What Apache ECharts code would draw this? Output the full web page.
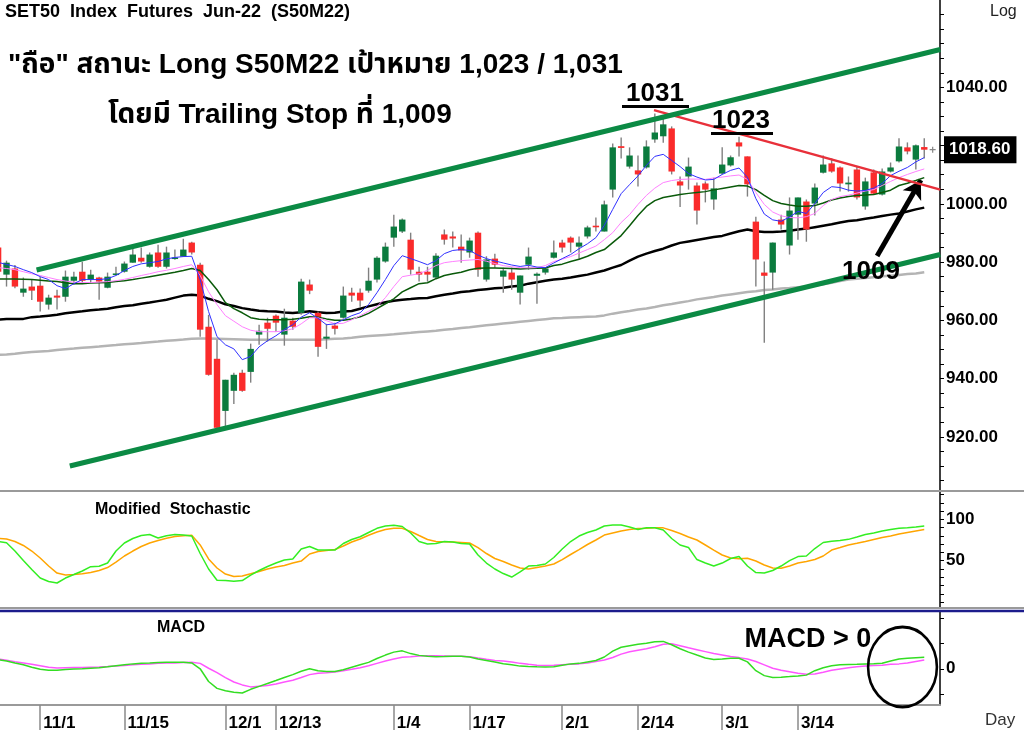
<!DOCTYPE html>
<html><head><meta charset="utf-8">
<script src="https://cdn.jsdelivr.net/npm/echarts@6/dist/echarts.min.js"></script>
<style>html,body{margin:0;padding:0;background:#fff}#c{width:1024px;height:732px}</style>
</head><body><div id="c"></div><script>
const cats = ['10/22','10/26','10/27','10/28','10/29',
'11/1','11/2','11/3','11/4','11/5','11/8','11/9','11/10','11/11','11/12',
'11/15','11/16','11/17','11/18','11/19','11/22','11/23','11/24','11/25','11/26',
'11/29','11/30','12/1','12/2','12/3','12/7','12/8','12/9',
'12/13','12/14','12/15','12/16','12/17','12/20','12/21','12/22','12/23','12/24',
'12/27','12/28','12/29','12/30','1/4','1/5','1/6','1/7',
'1/10','1/11','1/12','1/13','1/14','1/17','1/18','1/19','1/20','1/21',
'1/24','1/25','1/26','1/27','1/28','1/31','2/1','2/2','2/3','2/4',
'2/7','2/8','2/9','2/10','2/11','2/14','2/15','2/17','2/18',
'2/21','2/22','2/23','2/24','2/25','2/28','3/1','3/2','3/3','3/4',
'3/7','3/8','3/9','3/10','3/11','3/14','3/15','3/16','3/17','3/18',
'3/21','3/22','3/23','3/24','3/25','3/28','3/29','3/30','3/31','4/1','4/4','4/5'];
const tickDates = ['11/1','11/15','12/1','12/13','1/4','1/17','2/1','2/14','3/1','3/14'];
const priceLabels = [920, 940, 960, 980, 1000, 1040];
const stochLabels = [50, 100];
const macdLabels = [0];

const open = [985.0,975.7,977.8,969.5,971.6,971.9,965.4,968.5,968.1,973.6,
976.7,974.0,974.7,971.2,975.8,976.7,979.8,981.5,978.4,983.3,
978.4,981.3,981.9,986.7,979.1,957.8,946.8,928.9,935.8,942.0,
942.3,955.1,959.2,961.6,955.1,959.9,962.6,972.3,962.6,953.7,
958.2,960.9,969.5,969.5,970.2,974.0,980.2,988.4,990.5,987.7,
976.7,976.7,974.7,989.5,988.8,985.3,983.3,990.1,974.0,981.2,
975.0,976.4,969.5,979.1,975.3,976.4,981.5,986.7,988.4,985.3,
988.8,992.5,990.5,1004.9,1019.8,1012.8,1011.5,1012.5,1022.1,1023.2,
1025.9,1007.7,1009.4,1006.3,1007.0,1001.5,1010.4,1013.2,1021.1,1016.3,
993.9,976.4,976.4,994.6,985.7,996.3,1000.8,1000.1,1010.7,1013.9,
1012.5,1006.7,1011.8,999.1,1010.8,1003.2,1011.1,1014.6,1019.4,1015.2,
1019.5];
const close = [976.7,979.8,971.6,970.9,970.2,966.4,967.8,967.8,975.0,975.0,
973.6,975.7,973.3,975.0,976.1,979.5,982.6,980.2,982.6,978.4,
983.3,981.6,984.3,983.3,956.8,941.3,923.1,939.6,941.3,935.8,
950.2,956.4,957.1,959.2,960.9,957.8,973.3,970.2,950.9,954.4,
957.1,968.5,968.5,966.8,973.6,981.5,985.3,992.2,994.6,977.4,
975.7,975.7,982.2,987.7,988.1,984.0,987.4,977.4,980.9,979.1,
977.1,974.0,975.4,981.9,976.0,977.8,983.3,985.0,986.7,986.7,
991.9,992.2,999.8,1019.4,1019.2,1016.6,1010.1,1019.7,1024.5,1027.3,
1011.1,1006.3,1012.8,997.7,1004.9,1005.3,1013.5,1016.0,1019.7,1006.7,
980.9,975.3,986.7,992.9,997.7,1002.2,991.2,1005.6,1013.5,1011.1,
1007.0,1007.3,1002.2,1007.7,1003.5,1011.1,1012.5,1019.7,1018.0,1020.1,
1018.6];
const low = [975.0,971.6,971.0,968.1,967.0,963.0,963.7,963.7,966.4,972.3,
972.9,972.9,967.1,971.0,975.5,976.4,979.8,979.8,978.1,978.1,
977.8,980.8,981.9,982.6,954.4,941.0,923.0,923.4,931.3,935.5,
938.6,951.6,952.7,956.1,951.3,956.8,961.9,969.0,947.5,950.2,
955.1,960.6,966.4,964.7,969.5,973.0,979.8,985.3,990.0,975.7,
973.3,973.3,974.3,986.0,985.0,979.8,981.5,975.0,973.3,978.1,
969.5,970.5,965.4,977.4,965.7,975.7,981.2,983.3,983.3,980.9,
988.1,990.5,990.5,1002.2,1015.6,1012.1,1006.0,1012.1,1021.0,1021.0,
1010.1,998.9,1004.9,992.9,1000.5,998.0,1010.1,1012.8,1016.3,1002.5,
971.6,952.3,970.5,991.2,982.6,987.7,987.0,996.0,1010.4,1010.7,
1004.2,1004.2,1001.5,998.0,1003.2,1002.9,1010.8,1014.2,1017.0,1011.8,
1015.6];
const high = [987.0,980.5,979.0,974.7,974.0,975.0,968.8,970.5,977.1,976.7,
980.1,977.4,975.0,976.4,978.4,980.2,985.0,985.0,983.3,986.0,
985.3,984.3,988.0,987.0,979.8,961.9,953.3,939.6,942.0,943.0,
952.0,958.5,960.9,962.0,964.0,960.9,974.3,974.0,963.0,958.8,
959.2,971.6,971.2,970.9,978.1,982.0,986.7,996.3,995.0,990.1,
978.4,978.4,983.0,991.2,990.5,989.5,988.4,990.5,982.0,982.9,
978.1,978.1,975.4,985.0,976.4,978.1,987.4,987.7,988.8,988.8,
992.5,995.3,1001.1,1020.7,1022.8,1019.4,1016.6,1021.8,1031.0,1030.0,
1026.6,1009.4,1015.9,1007.3,1007.7,1009.0,1019.4,1016.6,1023.0,1016.3,
995.6,980.2,986.7,996.3,1002.2,1002.2,1001.5,1007.0,1016.6,1015.6,
1012.8,1009.4,1012.8,1009.0,1011.8,1012.1,1014.2,1022.5,1021.1,1020.4,
1022.5];

const maFast = [979.9,979.2,978.5,977.4,976.4,975.0,974.0,971.9,970.9,972.6,
974.0,974.0,974.0,974.3,975.4,977.1,978.5,979.4,979.8,980.2,
981.1,981.6,981.9,982.0,974.0,963.0,954.4,951.6,950.2,946.5,
947.6,950.9,953.0,954.7,956.8,958.5,961.1,962.6,960.7,958.5,
958.8,960.2,961.6,962.6,965.4,969.5,974.0,978.8,982.2,981.2,
980.2,979.1,980.5,982.9,984.0,984.3,984.0,982.4,981.2,980.4,
979.7,979.0,978.5,978.9,978.3,978.1,979.7,981.2,982.6,984.6,
986.3,988.4,992.6,998.1,1003.5,1006.6,1009.6,1013.2,1016.3,1017.0,
1014.9,1012.8,1010.4,1009.2,1008.2,1008.4,1010.1,1011.5,1012.3,1009.1,
1001.8,996.5,994.5,994.0,995.5,997.4,996.7,1000.1,1003.9,1005.9,
1005.6,1004.7,1004.4,1004.6,1005.4,1007.0,1009.7,1011.2,1012.5,1014.4,
1015.9];
const maMid = [978.1,977.8,977.4,976.7,976.0,975.4,974.7,974.0,973.5,973.1,
973.0,973.0,973.1,973.3,973.6,974.1,974.7,975.4,976.0,976.7,
977.2,977.8,978.5,979.1,975.4,969.8,965.4,961.6,959.7,957.8,
956.6,956.1,956.1,956.1,956.4,957.1,958.8,960.9,960.9,959.9,
958.8,959.0,960.2,961.6,963.1,964.7,967.8,971.6,975.0,975.5,
976.0,977.2,978.8,979.8,980.2,980.5,980.7,980.9,980.3,979.5,
978.8,978.4,978.1,978.0,978.1,978.8,980.2,981.0,981.9,983.1,
984.3,985.5,987.7,990.1,993.6,996.3,999.8,1002.9,1005.4,1007.3,
1008.0,1008.4,1008.5,1008.5,1008.4,1008.9,1009.2,1009.6,1009.9,1008.4,
1003.9,999.8,997.2,995.9,995.3,995.2,995.6,996.7,999.4,1001.5,
1002.5,1003.0,1003.7,1004.4,1004.9,1006.3,1007.7,1009.0,1010.1,1011.1,
1012.0];
const maSlow = [974.2,974.2,974.2,974.1,974.0,973.8,973.5,973.3,972.9,972.6,
972.6,972.8,972.9,973.0,973.3,973.6,974.0,974.5,975.0,975.5,
976.0,976.5,977.1,977.8,977.1,974.0,970.5,966.1,964.0,962.6,
960.9,960.4,960.2,960.2,960.2,960.4,960.7,961.2,961.1,960.5,
960.0,960.0,960.5,961.2,962.4,964.0,965.7,967.4,969.8,971.2,
972.6,972.9,974.3,975.4,976.0,976.5,977.4,977.9,978.0,978.0,
977.9,977.8,977.6,977.8,977.9,978.0,978.8,979.3,980.2,981.0,
982.0,983.3,984.3,986.7,989.1,992.5,996.0,999.1,1001.1,1002.2,
1002.7,1003.2,1003.6,1003.9,1004.2,1004.8,1005.3,1005.8,1006.3,1006.1,
1004.9,1002.9,1001.1,1000.1,999.6,999.2,999.2,999.4,1000.3,1001.3,
1002.0,1002.5,1002.9,1003.0,1003.2,1003.9,1004.7,1006.3,1007.1,1008.0,
1009.0];
const maLong = [960.2,960.5,960.5,960.5,961.1,961.3,961.6,961.9,962.4,962.8,
963.1,963.5,963.7,964.0,964.5,964.9,965.2,965.7,966.1,966.6,
967.1,967.8,968.5,968.8,968.5,967.4,966.6,965.5,964.9,964.2,
963.7,963.3,963.1,963.0,962.7,962.5,962.8,963.1,962.8,962.5,
962.6,963.0,963.2,964.0,964.8,965.5,966.2,966.7,967.1,967.3,
967.6,967.7,968.3,968.8,969.2,969.7,970.0,970.4,970.7,971.0,
971.2,971.6,971.9,972.6,973.1,973.6,974.0,974.3,974.7,975.2,
975.7,976.4,977.1,978.1,979.0,980.5,981.9,982.9,983.8,984.6,
985.7,986.6,987.1,987.6,988.1,988.6,989.0,989.8,990.6,991.2,
990.6,990.3,990.3,990.5,990.8,991.2,991.5,992.0,992.5,993.0,
993.6,994.1,994.4,994.9,995.3,995.8,996.3,996.7,997.4,998.1,
998.7];
const maVeryLong = [948.2,948.3,948.5,948.9,949.1,949.3,949.5,949.8,950.1,950.3,
950.6,950.8,951.0,951.3,951.5,951.8,952.0,952.2,952.5,952.7,
953.0,953.2,953.4,953.7,953.8,953.8,953.7,953.6,953.5,953.4,
953.3,953.3,953.3,953.3,953.3,953.3,953.3,953.3,953.3,953.5,
953.7,953.8,954.0,954.4,954.6,954.8,955.0,955.2,955.5,955.7,
956.0,956.2,956.4,956.8,957.0,957.4,957.6,958.0,958.3,958.6,
958.9,959.2,959.5,959.8,960.1,960.4,960.7,960.8,961.0,961.1,
961.2,961.3,961.7,962.3,962.8,963.2,963.7,964.1,964.6,965.2,
965.6,966.1,966.6,967.2,967.6,968.0,968.5,968.9,969.3,969.7,
970.0,970.4,970.6,970.9,971.1,971.4,971.6,972.0,972.4,972.9,
973.5,974.0,974.3,974.5,974.8,975.1,975.3,975.6,975.9,976.1,
976.5];

const stochK = [73.2,71.7,61.7,50.2,39.4,29.1,24.9,23.1,29.1,33.3,
37.6,42.8,43.4,47.2,61.7,71.4,76.8,80.4,81.6,77.4,
80.1,81.6,81.0,79.8,58.7,40.0,26.5,26.0,25.2,26.1,
32.7,38.2,43.0,47.2,50.8,52.1,64.1,67.2,62.9,62.9,
62.9,70.8,75.6,79.0,84.1,89.1,91.9,92.8,91.3,83.5,
73.2,70.2,70.8,73.2,72.6,70.8,70.2,56.9,47.2,40.0,
34.5,30.3,36.4,43.6,44.2,46.0,53.9,64.1,73.2,79.8,
84.1,87.1,91.9,93.1,93.1,90.7,87.7,89.9,89.9,87.1,
76.8,69.0,65.9,51.4,47.2,43.6,47.2,52.7,55.1,43.6,
35.7,35.1,38.2,43.6,50.2,55.0,55.7,64.7,72.0,73.4,
74.4,75.8,78.6,81.6,83.5,85.9,87.7,89.3,89.7,90.7,
91.9];
const stochD = [77.1,76.2,73.2,68.4,61.7,53.3,43.6,35.1,32.7,33.3,
34.2,35.7,38.2,41.8,48.4,55.7,61.7,67.2,71.4,74.4,
77.1,79.2,80.2,80.7,69.0,52.1,41.2,33.9,30.9,31.5,
34.2,37.0,40.0,42.4,44.2,47.2,49.6,58.1,61.1,62.3,
63.5,67.8,72.6,76.2,80.7,84.7,87.7,89.3,89.1,85.3,
80.4,75.6,73.2,72.9,72.6,72.0,71.4,65.9,58.7,52.7,
49.0,44.8,41.2,40.0,41.8,43.6,46.0,51.4,57.5,63.5,
69.6,75.0,81.0,83.5,85.9,87.7,88.9,89.3,89.9,89.7,
86.5,82.9,78.6,75.0,69.0,62.9,56.9,53.3,52.3,52.9,
49.6,44.8,41.2,40.8,43.6,47.2,49.0,51.4,55.7,62.9,
65.9,69.0,71.0,73.2,75.6,78.0,79.8,82.2,84.1,85.9,
87.7];

const macdLine = [1.79,1.54,1.15,0.77,0.29,-0.10,-0.29,-0.29,-0.15,-0.04,
0,0.10,0.19,0.38,0.58,0.77,0.96,1.06,1.15,1.25,
1.29,1.29,1.29,1.15,0,-2.50,-3.85,-4.33,-4.62,-4.77,
-4.04,-3.46,-2.88,-2.31,-1.73,-1.15,-0.48,0,-0.38,-0.52,
-0.52,-0.19,0.29,0.77,1.25,2.02,2.69,3.27,3.52,2.98,
2.63,2.44,2.37,2.40,2.44,2.44,2.31,1.92,1.63,1.35,
1.00,0.77,0.52,0.44,0.38,0.33,0.38,0.67,0.96,1.06,
1.35,1.63,2.31,3.46,4.23,4.52,4.81,5.00,5.29,5.38,
4.71,3.94,3.27,2.69,2.12,1.83,1.92,2.06,2.06,1.35,
-0.38,-1.35,-1.73,-1.65,-1.54,-1.40,-1.25,-0.38,0.19,0.58,
0.77,0.83,0.87,0.96,1.00,1.10,1.54,1.92,2.06,2.17,
2.25];
const macdSignal = [1.92,1.67,1.40,1.15,0.87,0.58,0.29,0.13,0.19,0.23,
0.27,0.31,0.35,0.44,0.54,0.65,0.77,0.87,0.96,1.06,
1.12,1.15,1.23,1.29,1.06,0.10,-0.77,-1.73,-2.60,-3.17,
-3.56,-3.46,-3.27,-2.98,-2.60,-2.27,-1.73,-1.15,-0.90,-0.77,
-0.63,-0.38,-0.10,0.19,0.58,1.06,1.54,1.92,2.25,2.35,
2.50,2.56,2.54,2.50,2.46,2.44,2.38,2.12,1.87,1.63,
1.54,1.35,1.06,0.87,0.71,0.63,0.67,0.77,0.87,0.96,
1.15,1.44,1.73,2.21,2.88,3.33,3.65,3.94,4.33,4.81,
4.90,4.52,4.13,3.75,3.37,2.98,2.69,2.40,2.19,1.92,
1.44,0.77,0.10,-0.29,-0.58,-0.87,-1.06,-1.02,-0.67,-0.29,
-0.04,0.19,0.38,0.52,0.62,0.67,0.87,0.96,1.15,1.44,
1.73];

// trend lines (x = bar position, y = price)
const upperChannel = [[4.57, 977.3], [111.9, 1053.0]];
const lowerChannel = [[8.52, 910.0], [111.9, 982.6]];
const resistanceLine = [[77.9, 1032.2], [111.9, 1004.9]];
const stopArrow = [[104.4, 982.1], [109.6, 1008.2]];

const FONT = '"Liberation Sans", Arial, "Noto Sans", "Noto Sans Thai", Loma, Garuda, "DejaVu Sans", sans-serif';
const UP = '#0b7b3e', DOWN = '#fa2b2b', WICK = '#808080';
const lastClose = close[close.length - 1];
const X_MIN = 0.226, X_MAX = 111.87;

const mainTicks = []; for (let v = 905; v <= 1065; v += 5) mainTicks.push(v);
const stochTicks = []; for (let v = 0; v <= 130; v += 10) stochTicks.push(v);
const dateTickIdx = tickDates.map(d => cats.indexOf(d));
const idx = arr => arr.map((v, i) => [i, v]);

const chart = echarts.init(document.getElementById('c'));

function candle(params, api) {
  const x = api.value(0), o = api.value(1), c = api.value(2), l = api.value(3), h = api.value(4);
  const pO = api.coord([x, o]), pC = api.coord([x, c]), pL = api.coord([x, l]), pH = api.coord([x, h]);
  const bw = api.size([1, 0])[0] * 0.76;
  const top = Math.min(pO[1], pC[1]);
  const hgt = Math.max(Math.abs(pO[1] - pC[1]), 1.6);
  return {type: 'group', children: [
    {type: 'line', shape: {x1: pH[0], y1: pH[1], x2: pL[0], y2: pL[1]}, style: {stroke: WICK, lineWidth: 1.4}},
    {type: 'rect', shape: {x: pO[0] - bw / 2, y: top, width: bw, height: hgt}, style: {fill: c >= o ? UP : DOWN}}
  ]};
}

const lineS = (name, data, color, width, gi, z) => ({
  name, type: 'line', data: idx(data), xAxisIndex: gi, yAxisIndex: gi, showSymbol: false, symbol: 'none',
  lineStyle: {color, width}, silent: true, z: z || 3, clip: true
});
const segS = (name, data, color, width, z) => ({
  name, type: 'line', data, xAxisIndex: 0, yAxisIndex: 0, showSymbol: false, symbol: 'none',
  lineStyle: {color, width}, silent: true, z, clip: true
});

const axisLblStyle = {color: '#000', fontWeight: 'bold', fontSize: 17, fontFamily: FONT, margin: 6};
const hiddenX = gi => ({type: 'value', gridIndex: gi, min: X_MIN, max: X_MAX, show: false});
const rightY = (gi, min, max, ticks, labels, extra) => Object.assign({
  type: 'value', gridIndex: gi, position: 'right', min, max,
  axisLine: {show: true, onZero: false, lineStyle: {color: '#000', width: 1.5}},
  axisTick: {show: true, customValues: ticks, length: 4, lineStyle: {color: '#000'}},
  axisLabel: Object.assign({customValues: labels}, axisLblStyle),
  splitLine: {show: false}
}, extra || {});

const option = {
  backgroundColor: '#fff',
  animation: false,
  axisPointer: {triggerOn: 'none'},
  grid: [
    {left: 0, top: 0, width: 940, height: 491},
    {left: 0, top: 491, width: 940, height: 117},
    {left: 0, top: 611, width: 940, height: 96}
  ],
  xAxis: [
    hiddenX(0), hiddenX(1),
    {type: 'value', gridIndex: 2, min: X_MIN, max: X_MAX,
      axisLine: {show: true, onZero: false, lineStyle: {color: '#9a9a9a', width: 2}},
      axisTick: {show: true, customValues: dateTickIdx, length: 25, lineStyle: {color: '#8a8a8a', width: 1.5}},
      axisLabel: {customValues: dateTickIdx, formatter: v => cats[Math.round(v)], align: 'left', margin: 10,
        color: '#000', fontWeight: 'bold', fontSize: 17, fontFamily: FONT, padding: [0, 0, 0, 3]},
      splitLine: {show: false}}
  ],
  yAxis: [
    rightY(0, 901.4, 1070, mainTicks, priceLabels, {
      axisLabel: Object.assign({customValues: priceLabels, formatter: v => Number(v).toFixed(2)}, axisLblStyle),
      axisPointer: {show: true, type: 'line', snap: false, status: 'show', value: lastClose, triggerTooltip: false,
        lineStyle: {opacity: 0},
        label: {show: true, formatter: p => Number(p.value).toFixed(2), backgroundColor: '#000', color: '#fff',
          fontWeight: 'bold', fontSize: 17, fontFamily: FONT, padding: [5, 6, 5, 5], margin: 4, borderRadius: 0}}}),
    rightY(1, -7.1, 134.2, stochTicks, stochLabels),
    rightY(2, -7.12, 11.35, [-5, 0, 5, 10], macdLabels)
  ],
  series: [
    {name: 'S50M22', type: 'custom', renderItem: candle, xAxisIndex: 0, yAxisIndex: 0, clip: true, z: 4,
      encode: {x: 0, y: [1, 2, 3, 4]},
      data: open.map((o, i) => [i, o, close[i], low[i], high[i]])},
    lineS('MA200', maVeryLong, '#b4b4b4', 2.5, 0, 3),
    lineS('MA75', maLong, '#000000', 2.5, 0, 3),
    lineS('MA25', maSlow, '#0a5a0a', 1.5, 0, 5),
    lineS('MA10', maMid, '#ff80ff', 1, 0, 5),
    lineS('MA5', maFast, '#3030ff', 1, 0, 5),
    segS('upper', upperChannel, '#0b8a44', 5, 8),
    segS('lower', lowerChannel, '#0b8a44', 5, 8),
    segS('resist', resistanceLine, '#e8303a', 2.5, 7),
    {name: 'arrow', type: 'line', xAxisIndex: 0, yAxisIndex: 0, data: [], z: 9,
      markLine: {silent: true, symbol: ['none', 'arrow'], symbolSize: [16, 18], animation: false,
        lineStyle: {color: '#000', width: 5, type: 'solid'}, label: {show: false},
        data: [[{coord: stopArrow[0]}, {coord: stopArrow[1]}]]}},
    {name: 'last', type: 'scatter', xAxisIndex: 0, yAxisIndex: 0, silent: true, z: 9,
      symbol: 'path://M4,0h2v4h4v2h-4v4h-2v-4h-4v-2h4z', symbolSize: 6, itemStyle: {color: '#666'},
      data: [[close.length, lastClose]]},
    lineS('%K', stochK, '#33ee22', 1.5, 1, 4),
    lineS('%D', stochD, '#ffa500', 1.5, 1, 3),
    lineS('MACD', macdLine, '#33dd22', 1.5, 2, 4),
    lineS('Signal', macdSignal, '#ff55ff', 1.5, 2, 3)
  ],
  graphic: [
    {type: 'line', shape: {x1: 0, y1: 491, x2: 1024, y2: 491}, style: {stroke: '#9a9a9a', lineWidth: 2}, z: 50},
    {type: 'line', shape: {x1: 0, y1: 608, x2: 1024, y2: 608}, style: {stroke: '#9a9a9a', lineWidth: 2}, z: 50},
    {type: 'line', shape: {x1: 0, y1: 611, x2: 1024, y2: 611}, style: {stroke: '#1c1c8c', lineWidth: 2.5}, z: 50},
    {type: 'text', x: 5, y: 12, z: 60, style: {text: 'SET50  Index  Futures  Jun-22  (S50M22)', fontSize: 18, fontWeight: 'bold', fontFamily: FONT, fill: '#000', verticalAlign: 'middle'}},
    {type: 'text', x: 990, y: 12, z: 60, style: {text: 'Log', fontSize: 16, fontFamily: FONT, fill: '#222', verticalAlign: 'middle'}},
    {type: 'text', x: 8, y: 65, z: 60, style: {text: '"ถือ" สถานะ Long S50M22 เป้าหมาย 1,023 / 1,031', fontSize: 28, fontWeight: 'bold', fontFamily: FONT, fill: '#000', verticalAlign: 'middle'}},
    {type: 'text', x: 108, y: 115, z: 60, style: {text: 'โดยมี Trailing Stop ที่ 1,009', fontSize: 28, fontWeight: 'bold', fontFamily: FONT, fill: '#000', verticalAlign: 'middle'}},
    {type: 'text', x: 655, y: 94, z: 60, style: {text: '1031', fontSize: 26, fontWeight: 'bold', fontFamily: FONT, fill: '#000', align: 'center', verticalAlign: 'middle'}},
    {type: 'line', z: 60, shape: {x1: 622, y1: 106.5, x2: 689, y2: 106.5}, style: {stroke: '#000', lineWidth: 3}},
    {type: 'text', x: 741, y: 121, z: 60, style: {text: '1023', fontSize: 26, fontWeight: 'bold', fontFamily: FONT, fill: '#000', align: 'center', verticalAlign: 'middle'}},
    {type: 'line', z: 60, shape: {x1: 711, y1: 133.5, x2: 773, y2: 133.5}, style: {stroke: '#000', lineWidth: 3}},
    {type: 'text', x: 871, y: 272, z: 60, style: {text: '1009', fontSize: 26, fontWeight: 'bold', fontFamily: FONT, fill: '#000', align: 'center', verticalAlign: 'middle'}},
    {type: 'text', x: 95, y: 510, z: 60, style: {text: 'Modified  Stochastic', fontSize: 16, fontWeight: 'bold', fontFamily: FONT, fill: '#000', verticalAlign: 'middle'}},
    {type: 'text', x: 157, y: 628, z: 60, style: {text: 'MACD', fontSize: 16, fontWeight: 'bold', fontFamily: FONT, fill: '#000', verticalAlign: 'middle'}},
    {type: 'text', x: 808, y: 640, z: 60, style: {text: 'MACD > 0', fontSize: 27, fontWeight: 'bold', fontFamily: FONT, fill: '#000', align: 'center', verticalAlign: 'middle'}},
    {type: 'circle', x: 902.5, y: 667, scaleX: 0.86, scaleY: 1, z: 60, shape: {cx: 0, cy: 0, r: 40}, style: {fill: 'none', stroke: '#000', lineWidth: 3, strokeNoScale: true}},
    {type: 'text', x: 985, y: 720, z: 60, style: {text: 'Day', fontSize: 17, fontFamily: FONT, fill: '#333', verticalAlign: 'middle'}}
  ]
};
chart.setOption(option);
</script></body></html>
